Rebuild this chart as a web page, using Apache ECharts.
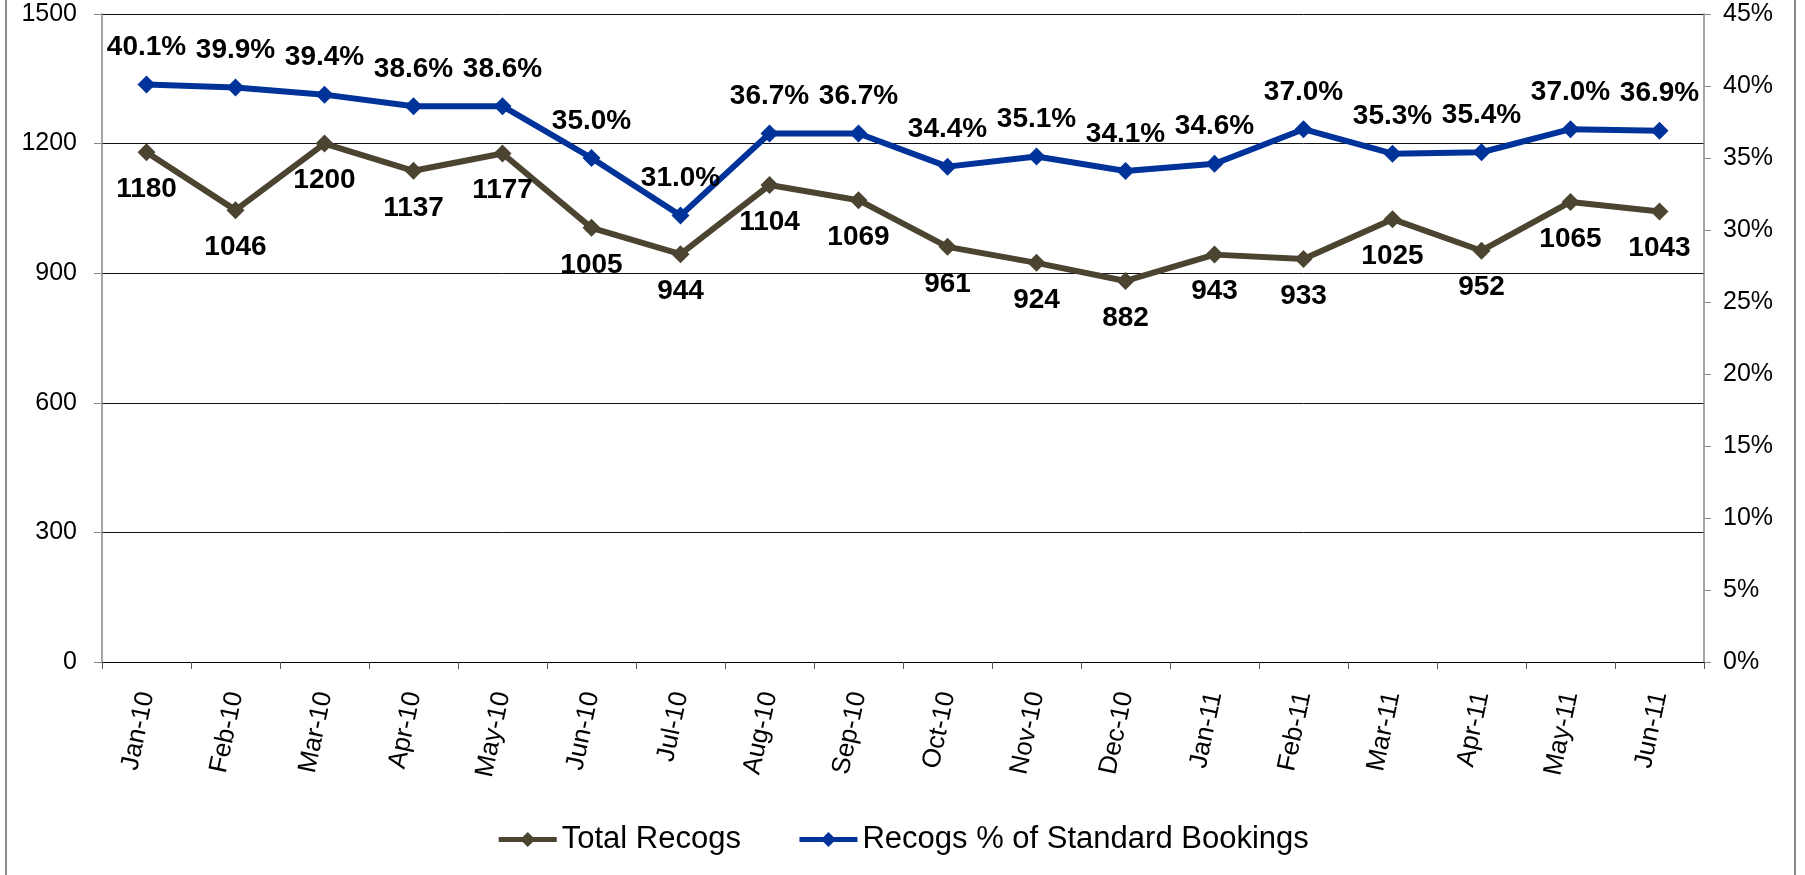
<!DOCTYPE html>
<html>
<head>
    <meta charset="utf-8">
    <title>Recogs</title>
    <script src="https://cdn.jsdelivr.net/npm/echarts@6/dist/echarts.min.js"></script>
    <style>
        html, body { margin: 0; padding: 0; background: #fff; }
        #main { width: 1805px; height: 875px; }
    </style>
</head>
<body>
<div id="main"></div>
<script>
    var months = ['Jan-10', 'Feb-10', 'Mar-10', 'Apr-10', 'May-10', 'Jun-10', 'Jul-10', 'Aug-10', 'Sep-10',
        'Oct-10', 'Nov-10', 'Dec-10', 'Jan-11', 'Feb-11', 'Mar-11', 'Apr-11', 'May-11', 'Jun-11'];
    var totalRecogs = [1180, 1046, 1200, 1137, 1177, 1005, 944, 1104, 1069, 961, 924, 882, 943, 933, 1025, 952, 1065, 1043];
    var recogsPct = [40.1, 39.9, 39.4, 38.6, 38.6, 35.0, 31.0, 36.7, 36.7, 34.4, 35.1, 34.1, 34.6, 37.0, 35.3, 35.4, 37.0, 36.9];

    var font = "'Liberation Sans', Arial, sans-serif";
    var myChart = echarts.init(document.getElementById('main'));

    var option = {
        animation: false,
        textStyle: {fontFamily: font},
        grid: {left: 102, right: 101, top: 14, bottom: 213, containLabel: false},
        legend: {
            bottom: 15,
            left: 'center',
            itemWidth: 58,
            itemHeight: 19,
            itemGap: 56,
            lineStyle: {width: 5},
            textStyle: {fontSize: 31, color: '#000', fontFamily: font},
            data: ['Total Recogs', 'Recogs % of Standard Bookings']
        },
        graphic: [{
            type: 'rect',
            shape: {x: 6, y: -10, width: 1789, height: 900},
            style: {fill: 'none', stroke: '#8a8a8a', lineWidth: 2},
            silent: true
        }],
        xAxis: {
            type: 'category',
            data: months,
            boundaryGap: true,
            axisLine: {lineStyle: {color: '#000', width: 1}},
            axisTick: {show: true, length: 7, lineStyle: {color: '#555'}},
            axisLabel: {rotate: 78, margin: 30, fontSize: 26, color: '#000', fontFamily: font}
        },
        yAxis: [{
            type: 'value',
            min: 0,
            max: 1500,
            interval: 300,
            axisLine: {show: true, lineStyle: {color: '#888', width: 1.5}},
            axisTick: {show: true, length: 8, lineStyle: {color: '#888'}},
            axisLabel: {
                margin: 25, fontSize: 25, color: '#000', fontFamily: font,
                formatter: function (v) {
                    return String(v);
                }
            },
            splitLine: {lineStyle: {color: '#111', width: 1}}
        }, {
            type: 'value',
            min: 0,
            max: 45,
            interval: 5,
            position: 'right',
            axisLine: {show: true, lineStyle: {color: '#888', width: 1.5}},
            axisTick: {show: true, length: 7, lineStyle: {color: '#888'}},
            axisLabel: {margin: 19, fontSize: 25, color: '#000', fontFamily: font, formatter: '{value}%'},
            splitLine: {show: false}
        }],
        series: [{
            name: 'Total Recogs',
            type: 'line',
            yAxisIndex: 0,
            data: totalRecogs,
            symbol: 'diamond',
            symbolSize: 18,
            itemStyle: {color: '#4a4430'},
            lineStyle: {color: '#4a4430', width: 6},
            label: {
                show: true,
                position: 'bottom',
                distance: 14,
                fontSize: 28,
                fontWeight: 'bold',
                color: '#000',
                fontFamily: font
            },
            z: 3
        }, {
            name: 'Recogs % of Standard Bookings',
            type: 'line',
            yAxisIndex: 1,
            data: recogsPct,
            symbol: 'diamond',
            symbolSize: 18,
            itemStyle: {color: '#003399'},
            lineStyle: {color: '#003399', width: 6},
            label: {
                show: true,
                position: 'top',
                distance: 14,
                fontSize: 28,
                fontWeight: 'bold',
                color: '#000',
                fontFamily: font,
                formatter: function (p) {
                    return p.value.toFixed(1) + '%';
                }
            },
            z: 4
        }]
    };
    myChart.setOption(option);
</script>
</body>
</html>
